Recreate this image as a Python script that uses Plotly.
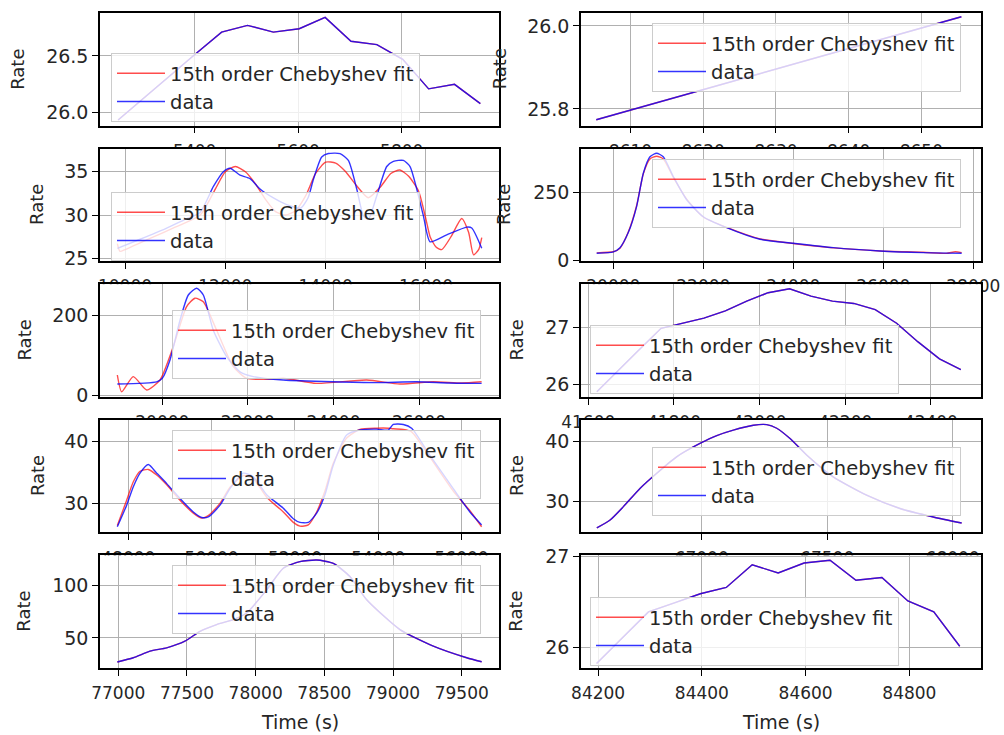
import plotly.graph_objects as go

W, H = 1004, 735

# ---------------- data ----------------
t1 = [5252, 5302, 5352, 5402, 5452, 5502, 5552, 5602, 5652, 5702, 5752, 5802, 5852, 5902, 5952]
r1 = [25.935, 26.13, 26.33, 26.52, 26.71, 26.77, 26.71, 26.74, 26.84, 26.63, 26.60, 26.47, 26.21, 26.25, 26.08]
f1 = [25.935, 26.13, 26.33, 26.52, 26.71, 26.77, 26.71, 26.74, 26.84, 26.63, 26.60, 26.47, 26.21, 26.25, 26.08]

t2 = [8605.3, 8630.4, 8655.5]
r2 = [25.774, 25.898, 26.022]
f2 = [25.774, 25.898, 26.022]

t3 = [9847, 10300, 10800, 11200, 11496, 11762, 11961, 12094, 12293, 12493, 12692, 12950, 13224,
      13500, 13650, 13755, 13921, 14054, 14287, 14453, 14620, 14753, 14852, 15018, 15218, 15350,
      15550, 15683, 15816, 15949, 16082, 16414, 16813, 16913, 17112]
r3 = [26.15, 27.2, 28.4, 29.5, 30.3, 33.3, 35.0, 35.4, 34.6, 34.2, 33.0, 32.0, 31.2,
      30.8, 32.0, 34.1, 36.7, 37.1, 37.1, 36.3, 33.0, 29.9, 29.5, 32.2, 35.6, 36.2,
      36.3, 35.6, 33.0, 29.9, 26.9, 27.7, 28.6, 28.5, 26.15]
tf3 = [9847, 9900, 10000, 10500, 11000, 11500, 11800, 12000, 12200, 12400, 12600, 12800, 13000,
       13200, 13400, 13600, 13800, 14000, 14200, 14400, 14600, 14850, 15100, 15300, 15480, 15650,
       15850, 16000, 16082, 16200, 16315, 16500, 16713, 16850, 16948, 17050, 17112]
f3 = [26.7, 25.8, 26.0, 27.3, 28.6, 30.0, 33.0, 35.0, 35.6, 35.0, 33.6, 31.8, 30.4,
      30.0, 30.5, 32.2, 34.8, 36.1, 36.0, 35.0, 33.5, 32.0, 33.3, 34.8, 35.2, 34.5,
      32.8, 29.5, 27.5, 26.3, 26.0, 27.5, 29.6, 28.0, 25.4, 26.0, 27.4]

t4 = [19631, 20000, 20148, 20333, 20519, 20667, 20815, 20963, 21111, 21333, 21630, 22000, 22519,
      23259, 24000, 24889, 25926, 26889, 27741]
r4 = [27.8, 32.6, 48, 103, 199, 320, 380, 393, 380, 308, 223, 161, 121, 78.5, 64, 48, 36, 30, 27.8]
tf4 = [19631, 20000, 20148, 20333, 20519, 20667, 20815, 20963, 21111, 21333, 21630, 22000, 22519,
       23259, 24000, 24889, 25926, 26889, 27400, 27600, 27741]
f4 = [29, 33, 46, 105, 202, 318, 372, 382, 372, 305, 225, 160, 122, 80, 63, 47, 36, 31, 27, 33, 30]

t5 = [18949, 19869, 20000, 20180, 20414, 20608, 20803, 20958, 21192, 21504, 21815, 22126, 22827,
      23995, 25000, 25944, 26700, 27463]
r5 = [27.5, 33, 41.7, 87.5, 187, 250, 267, 250, 162, 96, 58, 46, 37.5, 33, 31, 33, 30, 29]
tf5 = [18949, 19051, 19322, 19634, 19946, 20257, 20569, 20764, 20958, 21270, 21659, 21970, 22438,
       22827, 23606, 24776, 25554, 26332, 27000, 27463]
f5 = [50, 8, 46, 12.5, 37.5, 121, 221, 242, 233, 162, 71, 42, 39, 42, 29, 37.5, 27.5, 33, 30, 33]

t6 = [41620, 41670, 41720, 41770, 41820, 41870, 41920, 41970, 42020, 42070, 42120, 42170, 42220,
      42270, 42320, 42370, 42420, 42470]
r6 = [25.87, 26.25, 26.62, 26.99, 27.08, 27.17, 27.3, 27.47, 27.62, 27.69, 27.56, 27.47, 27.43,
      27.32, 27.08, 26.75, 26.45, 26.26]
f6 = [25.87, 26.25, 26.62, 26.99, 27.08, 27.17, 27.3, 27.47, 27.62, 27.69, 27.56, 27.47, 27.43,
      27.32, 27.08, 26.75, 26.45, 26.26]

t7 = [47736, 47960, 48120, 48281, 48480, 48681, 48922, 49241, 49560, 49761, 49920, 50201, 50441,
      50760, 51000, 51321, 51720, 51960, 52120, 52320, 52521, 52720, 52920, 53241, 53560, 53961,
      54240, 54360, 54600, 54801, 55240, 55800, 56200, 56481]
r7 = [26.2, 29.7, 32.7, 34.9, 36.3, 34.9, 33.2, 30.8, 28.6, 27.7, 27.8, 29.7, 32.4,
      34.9, 34.3, 31.4, 29.2, 27.5, 26.9, 26.9, 28.4, 31.4, 36.2, 41.1, 41.9, 42.05,
      41.9, 42.8, 42.8, 42.2, 37.8, 32.4, 28.6, 26.5]
f7 = [26.4, 30.5, 33.5, 35.2, 35.5, 34.6, 33.0, 30.5, 28.4, 27.6, 28.0, 30.0, 32.6,
      34.5, 34.0, 31.0, 28.6, 26.9, 26.3, 26.5, 28.6, 32.0, 36.5, 40.6, 42.0, 42.2,
      42.2, 42.1, 42.0, 41.6, 37.5, 32.0, 28.8, 26.2]

t8 = [66582, 66635, 66688, 66754, 66821, 66900, 66993, 67060, 67126, 67206, 67259, 67299, 67352,
      67418, 67524, 67657, 67790, 67923, 68036]
r8 = [25.7, 27.0, 29.2, 32.2, 34.7, 37.4, 39.6, 40.9, 41.8, 42.6, 42.7, 42.1, 40.4, 37.7, 34.1,
      31.1, 28.9, 27.5, 26.5]
f8 = [25.7, 27.0, 29.2, 32.2, 34.7, 37.4, 39.6, 40.9, 41.8, 42.6, 42.7, 42.1, 40.4, 37.7, 34.1,
      31.1, 28.9, 27.5, 26.5]

t9 = [76993, 77109, 77231, 77352, 77485, 77595, 77716, 77837, 77934, 78080, 78201, 78322, 78444,
      78565, 78686, 78808, 79050, 79293, 79536, 79645]
r9 = [26.9, 31, 37.3, 40.5, 46.8, 56.3, 62.7, 67.4, 73.7, 95.9, 116.5, 122.8, 124.4, 121.2,
      108.6, 86.4, 57.9, 42.1, 31, 27.2]
f9 = [26.9, 31, 37.3, 40.5, 46.8, 56.3, 62.7, 67.4, 73.7, 95.9, 116.5, 122.8, 124.4, 121.2,
      108.6, 86.4, 57.9, 42.1, 31, 27.2]

t10 = [84197, 84247, 84297, 84347, 84397, 84447, 84497, 84547, 84597, 84647, 84697, 84747, 84797,
       84847, 84897]
r10 = [25.82, 26.11, 26.39, 26.49, 26.59, 26.66, 26.91, 26.82, 26.93, 26.96, 26.74, 26.77, 26.51,
       26.39, 26.01]
f10 = [25.82, 26.11, 26.39, 26.49, 26.59, 26.66, 26.91, 26.82, 26.93, 26.96, 26.74, 26.77, 26.51,
       26.39, 26.01]

xticks = [
    [5400, 5600, 5800],
    [8610, 8620, 8630, 8640, 8650],
    [10000, 12000, 14000, 16000],
    [20000, 22000, 24000, 26000, 28000],
    [20000, 22000, 24000, 26000],
    [41600, 41800, 42000, 42200, 42400],
    [48000, 50000, 52000, 54000, 56000],
    [67000, 67500, 68000],
    [77000, 77500, 78000, 78500, 79000, 79500],
    [84200, 84400, 84600, 84800],
]
yticks = [
    [26.0, 26.5], [25.8, 26.0], [25, 30, 35], [0, 250], [0, 200],
    [26, 27], [30, 40], [30, 40], [50, 100], [26, 27],
]
FIT_NAME = "15th order Chebyshev fit"
DATA_NAME = "data"

# ---------------- layout config ----------------
series = [
    (t1, f1, t1, r1), (t2, f2, t2, r2), (tf3, f3, t3, r3), (tf4, f4, t4, r4), (tf5, f5, t5, r5),
    (t6, f6, t6, r6), (t7, f7, t7, r7), (t8, f8, t8, r8), (t9, f9, t9, r9), (t10, f10, t10, r10),
]
smooth = [False, False, True, True, True, False, True, True, True, False]
xranges = [[5217, 5988], [8603.2, 8658.2], [9501, 17456], [19282, 28171], [18544, 27869],
           [41583, 42517], [47320, 56898], [66519, 68113], [76867, 79771], [84167, 84938]]
yranges = [[25.886, 26.879], [25.760, 26.031], [24.665, 37.67], [-1.5, 409.8], [-4.5, 277],
           [25.78, 27.77], [25.28, 43.56], [24.96, 43.49], [21.2, 128.8], [25.77, 27.014]]
yfmt = ['.1f', '.1f', 'd', 'd', 'd', 'd', 'd', 'd', 'd', 'd']
cols = [(100, 499), (581, 981)]
rows = [(13, 125.6), (148.6, 261.2), (284.2, 396.8), (419.8, 532.4), (555.4, 668)]
legend_pos = [(111, 53), (652, 23), (111, 192), (652, 159), (172, 310),
              (590, 325), (172, 430), (652, 447), (172, 565), (590, 597)]
left_label_x = [17.5, 37, 24, 37, 24]
right_label_x = [499, 504, 516, 516, 516]

FONT = "DejaVu Sans"
TXT = "#262626"

fig = go.Figure()
layout = dict(
    template="none",
    width=W, height=H, margin=dict(l=0, r=0, t=0, b=0, autoexpand=False),
    paper_bgcolor="white", plot_bgcolor="white",
    font=dict(family=FONT, size=17, color=TXT),
    annotations=[],
)

def xd(a, b):
    return [a / W, b / W]

def yd(top, bot):
    return [1 - bot / H, 1 - top / H]

# dummy subplots first (axes 1..10) so the real panels (11..20) stack in order
for k in range(10):
    r, c = divmod(k, 2)
    n = k + 1
    xs = "" if n == 1 else str(n)
    layout["xaxis" + xs] = dict(domain=xd(*cols[c]), anchor="y" + xs, visible=False,
                                automargin=False)
    layout["yaxis" + xs] = dict(domain=yd(*rows[r]), anchor="x" + xs, visible=False,
                                automargin=False)
    fig.add_trace(go.Scatter(x=[], y=[], xaxis="x" + xs, yaxis="y" + xs,
                             showlegend=False, hoverinfo="skip"))

for k in range(10):
    r, c = divmod(k, 2)
    n = k + 11
    xs = str(n)
    lg = "legend" if k == 0 else "legend%d" % (k + 1)
    tf, fv, td, dv = series[k]
    shape = "spline" if smooth[k] else "linear"
    fig.add_trace(go.Scatter(
        x=tf, y=fv, mode="lines", name=FIT_NAME, xaxis="x" + xs, yaxis="y" + xs,
        line=dict(color="rgba(255,0,0,0.7)", width=1.4, shape=shape, smoothing=0.6),
        legend=lg))
    fig.add_trace(go.Scatter(
        x=td, y=dv, mode="lines", name=DATA_NAME, xaxis="x" + xs, yaxis="y" + xs,
        line=dict(color="rgba(0,0,255,0.8)", width=1.4, shape=shape, smoothing=0.6),
        legend=lg))
    common = dict(showgrid=True, gridcolor="#b0b0b0", gridwidth=1, showline=True,
                  linecolor="black", linewidth=1.5, mirror=True, ticks="outside",
                  ticklen=6, tickwidth=1.2, tickcolor="black", zeroline=False,
                  automargin=False)
    layout["xaxis" + xs] = dict(domain=xd(*cols[c]), anchor="y" + xs, range=xranges[k],
                                tickvals=xticks[k], tickformat="d", ticklabelstandoff=3,
                                tickfont=dict(size=17, family=FONT, color=TXT), **common)
    layout["yaxis" + xs] = dict(domain=yd(*rows[r]), anchor="x" + xs, range=yranges[k],
                                tickvals=yticks[k], tickformat=yfmt[k],
                                tickfont=dict(size=19, family=FONT, color=TXT), **common)
    lx, ly = legend_pos[k]
    layout[lg] = dict(x=lx / W, y=1 - ly / H, xanchor="left", yanchor="top",
                      bgcolor="rgba(255,255,255,0.8)", bordercolor="#cccccc", borderwidth=1,
                      font=dict(size=19.5, family=FONT, color=TXT), itemwidth=48,
                      tracegroupgap=0)

for r in range(5):
    cy = 1 - (rows[r][0] + rows[r][1]) / 2 / H
    for x in (left_label_x[r], right_label_x[r]):
        layout["annotations"].append(dict(
            text="Rate", x=x / W, y=cy, xref="paper", yref="paper", showarrow=False,
            textangle=-90, xanchor="center", yanchor="middle",
            font=dict(size=18, family=FONT, color=TXT)))
for c in range(2):
    cx = (cols[c][0] + cols[c][1]) / 2 / W
    layout["annotations"].append(dict(
        text="Time (s)", x=cx, y=1 - 721.7 / H, xref="paper", yref="paper", showarrow=False,
        xanchor="center", yanchor="middle", font=dict(size=19, family=FONT, color=TXT)))

fig.update_layout(**layout)
fig.write_html("out.html")
